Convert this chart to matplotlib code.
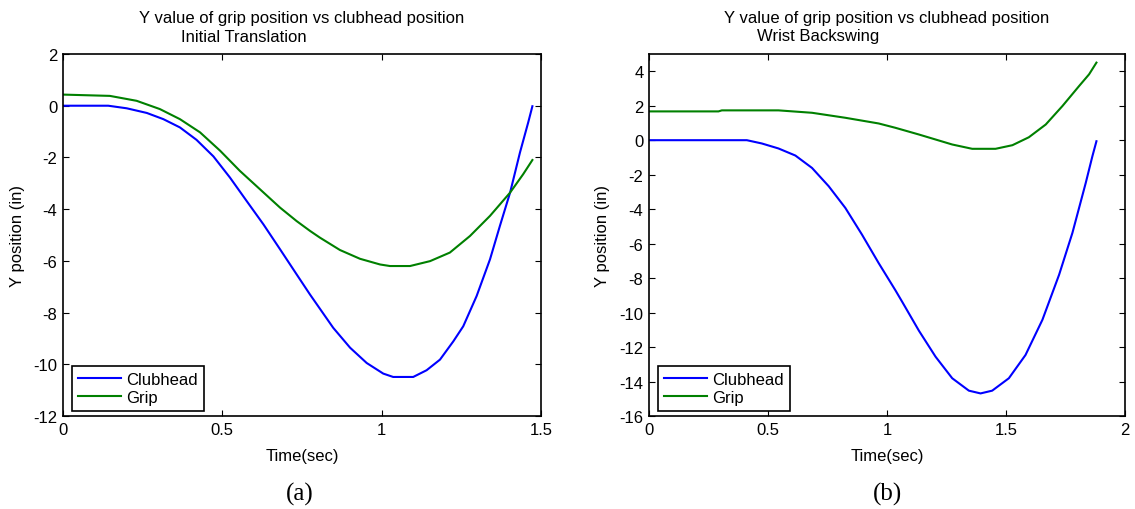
import matplotlib
matplotlib.use("Agg")
import matplotlib.pyplot as plt
from matplotlib.ticker import FuncFormatter

plt.rcParams['font.family'] = ['Liberation Sans', 'DejaVu Sans']
plt.rcParams['axes.unicode_minus'] = False

# ---- Panel (a): Initial Translation ----
t_a_club = [0.0, 0.142, 0.2, 0.263, 0.315, 0.367, 0.419, 0.472, 0.524, 0.576, 0.629, 0.681,
            0.733, 0.775, 0.848, 0.901, 0.953, 1.005, 1.036, 1.099, 1.141, 1.183,
            1.225, 1.256, 1.298, 1.34, 1.371, 1.403, 1.434, 1.46, 1.473]
y_a_club = [0.0, 0.0, -0.10, -0.28, -0.52, -0.84, -1.32, -1.96, -2.78, -3.68, -4.59, -5.55,
            -6.52, -7.30, -8.59, -9.36, -9.95, -10.36, -10.49, -10.49, -10.23, -9.82,
            -9.11, -8.53, -7.36, -5.94, -4.65, -3.36, -1.81, -0.64, -0.02]
t_a_grip = [0.0, 0.147, 0.231, 0.304, 0.367, 0.43, 0.493, 0.555, 0.618, 0.681, 0.733, 0.775,
            0.806, 0.869, 0.932, 0.995, 1.026, 1.089, 1.152, 1.214, 1.277, 1.34, 1.403,
            1.444, 1.473]
y_a_grip = [0.43, 0.38, 0.19, -0.13, -0.52, -1.03, -1.74, -2.52, -3.23, -3.94, -4.46, -4.84,
            -5.10, -5.58, -5.92, -6.14, -6.20, -6.20, -6.01, -5.68, -5.04, -4.26, -3.36,
            -2.65, -2.10]

# ---- Panel (b): Wrist Backswing ----
t_b_club = [0.0, 0.411, 0.474, 0.544, 0.615, 0.685, 0.755, 0.825, 0.895, 0.965, 1.035,
            1.064, 1.134, 1.204, 1.274, 1.344, 1.393, 1.442, 1.512, 1.582, 1.653, 1.723,
            1.779, 1.835, 1.863, 1.88]
y_b_club = [0.0, 0.0, -0.19, -0.48, -0.89, -1.61, -2.67, -3.93, -5.48, -7.13, -8.70,
            -9.38, -11.05, -12.56, -13.81, -14.53, -14.69, -14.53, -13.81, -12.46, -10.42, -7.81,
            -5.38, -2.48, -0.93, -0.06]
t_b_grip = [0.0, 0.292, 0.306, 0.544, 0.685, 0.825, 0.965, 1.035, 1.134, 1.274, 1.358,
            1.456, 1.527, 1.596, 1.667, 1.737, 1.807, 1.849, 1.88]
y_b_grip = [1.67, 1.67, 1.73, 1.73, 1.59, 1.30, 0.97, 0.72, 0.33, -0.25, -0.50,
            -0.50, -0.29, 0.17, 0.91, 1.98, 3.14, 3.82, 4.50]

series_labels = ['Clubhead', 'Grip']
title_main = 'Y value of grip position vs clubhead position'
subtitles = ['Initial Translation', 'Wrist Backswing']
panel_tags = ['(a)', '(b)']
xlabel = 'Time(sec)'
ylabel = 'Y position (in)'
xticks_a = [0, 0.5, 1, 1.5]
yticks_a = [-12, -10, -8, -6, -4, -2, 0, 2]
xticks_b = [0, 0.5, 1, 1.5, 2]
yticks_b = [-16, -14, -12, -10, -8, -6, -4, -2, 0, 2, 4]

W, H = 1135, 510
FS = 12
fig = plt.figure(figsize=(W / 100, H / 100), dpi=100)
fig.patch.set_facecolor('white')

fmt = FuncFormatter(lambda v, p: '%g' % v)

def make_axes(px_left, px_right, px_top, px_bottom):
    return fig.add_axes([px_left / W, 1 - px_bottom / H, (px_right - px_left) / W,
                         (px_bottom - px_top) / H])

panels = [
    dict(box=(63, 541, 55, 417), tc=[t_a_club, y_a_club], tg=[t_a_grip, y_a_grip],
         xlim=(0, 1.5), ylim=(-12, 2), xt=xticks_a, yt=yticks_a, sub_x=181, tag_x=300, ylab_x=18),
    dict(box=(649, 1125, 55, 417), tc=[t_b_club, y_b_club], tg=[t_b_grip, y_b_grip],
         xlim=(0, 2), ylim=(-16, 5), xt=xticks_b, yt=yticks_b, sub_x=757, tag_x=888, ylab_x=603),
]

for i, p in enumerate(panels):
    l, r, t, b = p['box']
    ax = make_axes(l, r, t, b)
    ax.plot(p['tc'][0], p['tc'][1], color=(0, 0, 1), lw=1.5, label=series_labels[0])
    ax.plot(p['tg'][0], p['tg'][1], color=(0, 0.5, 0), lw=1.5, label=series_labels[1])
    ax.set_xlim(*p['xlim'])
    ax.set_ylim(*p['ylim'])
    ax.set_xticks(p['xt'])
    ax.set_yticks(p['yt'])
    ax.xaxis.set_major_formatter(fmt)
    ax.yaxis.set_major_formatter(fmt)
    ax.tick_params(direction='in', length=4, width=0.8, top=True, right=True,
                   labelsize=FS, pad=4, colors='black')
    for s in ax.spines.values():
        s.set_linewidth(1.2)
        s.set_color('black')
    leg = ax.legend(loc='lower left', fontsize=FS, frameon=True, fancybox=False,
                    edgecolor='black', framealpha=1, handlelength=2.6, handletextpad=0.3,
                    borderpad=0.35, labelspacing=0.2, borderaxespad=0.0,
                    bbox_to_anchor=(9 / (r - l), (b - 412) / (b - t)))
    leg.get_frame().set_linewidth(1.2)
    cx = (l + r) / 2
    fig.text(cx / W, 1 - 18 / H, title_main, ha='center', va='center', fontsize=FS)
    fig.text(p['sub_x'] / W, 1 - 37 / H, subtitles[i], ha='left', va='center', fontsize=FS)
    fig.text(cx / W, 1 - 457 / H, xlabel, ha='center', va='center', fontsize=FS)
    fig.text(p['ylab_x'] / W, 1 - ((t + b) / 2) / H, ylabel, ha='center', va='center',
             rotation=90, fontsize=FS)
    fig.text(p['tag_x'] / W, 1 - 494 / H, panel_tags[i], ha='center', va='center',
             fontsize=18, family=['Liberation Serif', 'DejaVu Serif'])

fig.savefig('out.png', dpi=100, facecolor='white')
